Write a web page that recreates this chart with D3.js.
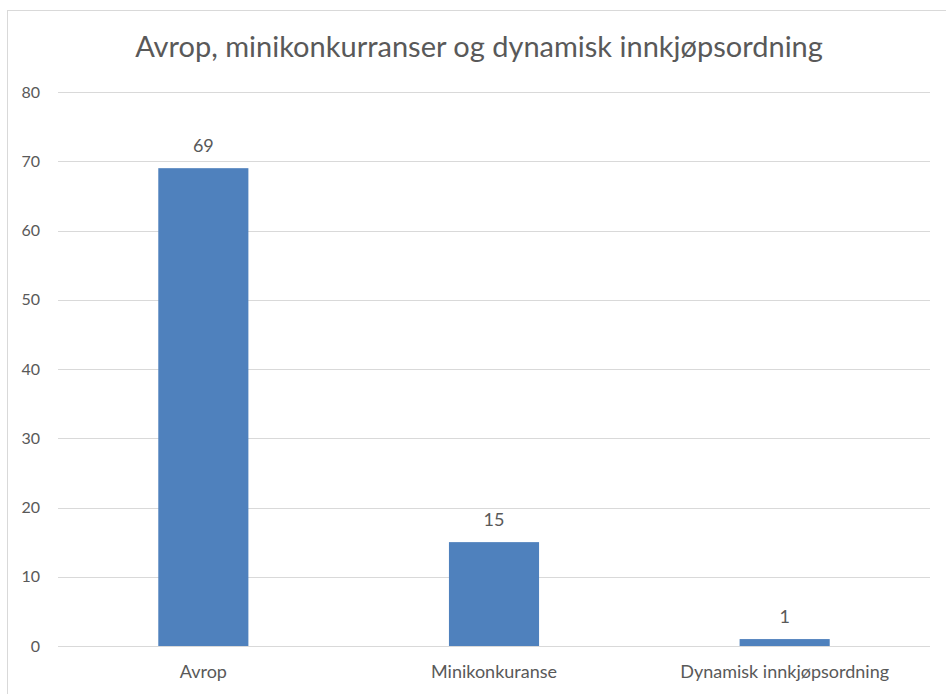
<!DOCTYPE html>
<html>
<head>
<meta charset="utf-8">
<script src="https://cdn.jsdelivr.net/npm/d3@7"></script>
<style>
  body { margin: 0; background: #fff; }
  text { font-family: Lato, "Open Sans", sans-serif; fill: #595959; }
</style>
</head>
<body>
<svg width="946" height="694"></svg>
<script>
// chart data
const title = 'Avrop, minikonkurranser og dynamisk innkjøpsordning';
const categories = ['Avrop', 'Minikonkuranse', 'Dynamisk innkjøpsordning'];
const values = [69, 15, 1];
const yTicks = [0, 10, 20, 30, 40, 50, 60, 70, 80];

const W = 946, H = 694;
const margin = {top: 92, right: 16, bottom: 48, left: 58};

let svg = d3.select('svg');

// outer chart border
svg.append('rect')
  .attr('x', 7.5).attr('y', 10.5)
  .attr('width', W + 20).attr('height', H + 20)
  .attr('fill', 'none')
  .attr('stroke', '#d9d9d9');

let x = d3.scaleBand()
  .domain(categories)
  .range([margin.left, W - margin.right])
  .paddingInner(0.69)
  .paddingOuter(0.345);

let y = d3.scaleLinear()
  .domain([0, 80])
  .range([H - margin.bottom, margin.top]);

// grid lines
svg.append('g')
  .selectAll('line')
  .data(yTicks)
  .enter()
  .append('line')
  .attr('x1', margin.left)
  .attr('x2', W - margin.right)
  .attr('y1', function(d){ return Math.round(y(d)) + 0.5; })
  .attr('y2', function(d){ return Math.round(y(d)) + 0.5; })
  .attr('stroke', '#d9d9d9')
  .attr('stroke-width', 1);

// y tick labels
let yAxis = svg.append('g')
  .attr('transform', 'translate(' + (margin.left - 18) + ',0)')
  .call(d3.axisLeft(y).tickValues(yTicks).tickSize(0).tickPadding(0));
yAxis.select('.domain').remove();
yAxis.selectAll('text')
  .attr('font-size', 16)
  .attr('font-family', 'Lato, sans-serif')
  .attr('fill', '#595959');

// bars
svg.append('g')
  .selectAll('rect')
  .data(values)
  .enter()
  .append('rect')
  .attr('x', function(d, i){ return x(categories[i]); })
  .attr('y', function(d){ return y(d); })
  .attr('width', x.bandwidth())
  .attr('height', function(d){ return y(0) - y(d); })
  .attr('fill', '#4f81bd');

// value labels
svg.append('g')
  .selectAll('text')
  .data(values)
  .enter()
  .append('text')
  .attr('x', function(d, i){ return x(categories[i]) + x.bandwidth() / 2; })
  .attr('y', function(d){ return y(d) - 16; })
  .attr('text-anchor', 'middle')
  .attr('font-size', 18)
  .attr('fill', '#404040')
  .text(function(d){ return d; });

// category labels
let xAxis = svg.append('g')
  .attr('transform', 'translate(0,' + (H - margin.bottom) + ')')
  .call(d3.axisBottom(x).tickSize(0).tickPadding(19));
xAxis.select('.domain').remove();
xAxis.selectAll('text')
  .attr('font-size', 18)
  .attr('font-family', 'Lato, sans-serif')
  .attr('fill', '#595959');

// title
svg.append('text')
  .attr('x', 479)
  .attr('y', 57)
  .attr('text-anchor', 'middle')
  .attr('font-size', 29)
  .attr('fill', '#595959')
  .text(title);
</script>
</body>
</html>
